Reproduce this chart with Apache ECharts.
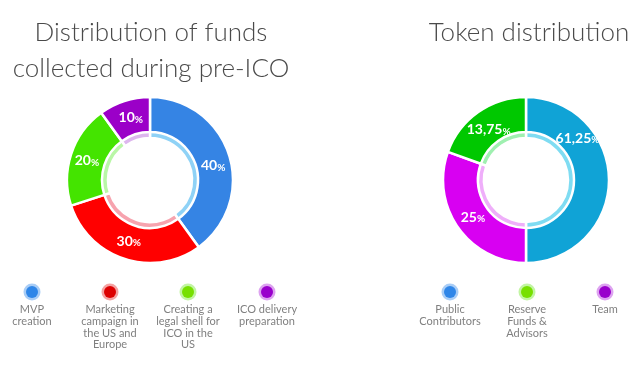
<!DOCTYPE html>
<html><head><meta charset="utf-8">
<script src="https://cdn.jsdelivr.net/npm/echarts@6/dist/echarts.min.js"></script>
<style>html,body{margin:0;padding:0;background:#fff}#c{width:640px;height:386px}</style>
</head><body><div id="c"></div>
<script>
// ---- Data ----
const leftTitle = 'Distribution of funds\ncollected during pre-ICO';
const leftCategories = ['MVP creation', 'Marketing campaign', 'Legal shell', 'ICO delivery'];
const leftValues = [40, 30, 20, 10];
const leftLabels = ['40', '30', '20', '10'];
const leftLegendLabels = ['MVP\ncreation', 'Marketing\ncampaign in\nthe US and\nEurope', 'Creating a\nlegal shell for\nICO in the\nUS', 'ICO delivery\npreparation'];

const rightTitle = 'Token distribution';
const rightCategories = ['Public Contributors', 'Team', 'Reserve Funds & Advisors'];
// arc shares as drawn in the picture
const rightValues = [50, 30.5, 19.5];
// percentages printed on the slices
const rightLabels = ['61,25', '25', '13,75'];
const rightLegendLabels = ['Public\nContributors', 'Reserve\nFunds &\nAdvisors', 'Team'];

// ---- Styles ----
const leftColors = ['#3584e4', '#ff0000', '#44e400', '#9b00c8'];
const leftLight = ['#8fd2f6', '#f7a3ae', '#b9f7a6', '#ddb6ee'];
const leftLabelOffsets = [[-2, 7], [0, -4], [2, 2], [2, 3]];
const rightColors = ['#10a3d6', '#d800f2', '#00c800'];
const rightLight = ['#7fdcf2', '#efaefa', '#9ff0b0'];
const rightLabelOffsets = [[-17, -42], [3, -2], [2, 6]];
const leftLegendColors = ['#2f86e8', '#dd0000', '#77e000', '#9900cc'];
const leftLegendHalo = ['#a9cdf6', '#f4a2a2', '#c2f5a3', '#dda3f0'];
const rightLegendColors = ['#2f86e8', '#77e000', '#9900cc'];
const rightLegendHalo = ['#a9cdf6', '#c2f5a3', '#dda3f0'];
const leftLegendX = [32, 110, 188, 267];
const rightLegendX = [450, 527, 605];

const rich = {
  v: {color: '#fff', fontFamily: 'Lato', fontWeight: 'bold', fontSize: 14},
  p: {color: '#fff', fontFamily: 'Lato', fontWeight: 'bold', fontSize: 10, padding: [3, 0, 0, 0]}
};

function outer(center, cats, vals, texts, colors, offsets) {
  return {
    type: 'pie', center: center, radius: [48, 83], silent: true,
    itemStyle: {borderColor: '#fff', borderWidth: 2.5},
    labelLine: {show: false},
    label: {show: true, position: 'inside', overflow: 'none'},
    data: vals.map((v, i) => ({
      name: cats[i], value: v, itemStyle: {color: colors[i]},
      label: {offset: offsets[i], rich: rich, formatter: '{v|' + texts[i] + '}{p|%}'}
    }))
  };
}
function inner(center, cats, vals, colors) {
  return {
    type: 'pie', center: center, radius: [42, 49], silent: true,
    itemStyle: {borderColor: '#fff', borderWidth: 2.5},
    label: {show: false}, labelLine: {show: false},
    data: vals.map((v, i) => ({name: cats[i], value: v, itemStyle: {color: colors[i]}}))
  };
}

function legend(xs, y, labels, colors, halos) {
  const g = [];
  xs.forEach((x, i) => {
    g.push({type: 'circle', shape: {cx: x, cy: y, r: 8.5}, style: {fill: halos[i]}, silent: true});
    g.push({type: 'circle', shape: {cx: x, cy: y, r: 6}, style: {fill: colors[i]}, silent: true});
    g.push({type: 'text', x: x, y: y + 12, silent: true,
      style: {text: labels[i], fill: '#808080', font: '11px Lato', align: 'center',
              verticalAlign: 'top', lineHeight: 11.7}});
  });
  return g;
}

const chart = echarts.init(document.getElementById('c'), null, {renderer: 'canvas'});
chart.setOption({
  animation: false,
  title: [
    {text: leftTitle, left: 146, top: 10, textAlign: 'center',
     textStyle: {fontFamily: 'Lato', fontWeight: 300, fontSize: 26, color: '#4a4a4a', lineHeight: 36}},
    {text: rightTitle, left: 524, top: 10, textAlign: 'center',
     textStyle: {fontFamily: 'Lato', fontWeight: 300, fontSize: 26, color: '#4a4a4a', lineHeight: 36}}
  ],
  series: [
    inner([150, 180], leftCategories, leftValues, leftLight),
    outer([150, 180], leftCategories, leftValues, leftLabels, leftColors, leftLabelOffsets),
    inner([526, 180], rightCategories, rightValues, rightLight),
    outer([526, 180], rightCategories, rightValues, rightLabels, rightColors, rightLabelOffsets)
  ],
  graphic: legend(leftLegendX, 292, leftLegendLabels, leftLegendColors, leftLegendHalo)
    .concat(legend(rightLegendX, 292, rightLegendLabels, rightLegendColors, rightLegendHalo))
});
</script></body></html>
